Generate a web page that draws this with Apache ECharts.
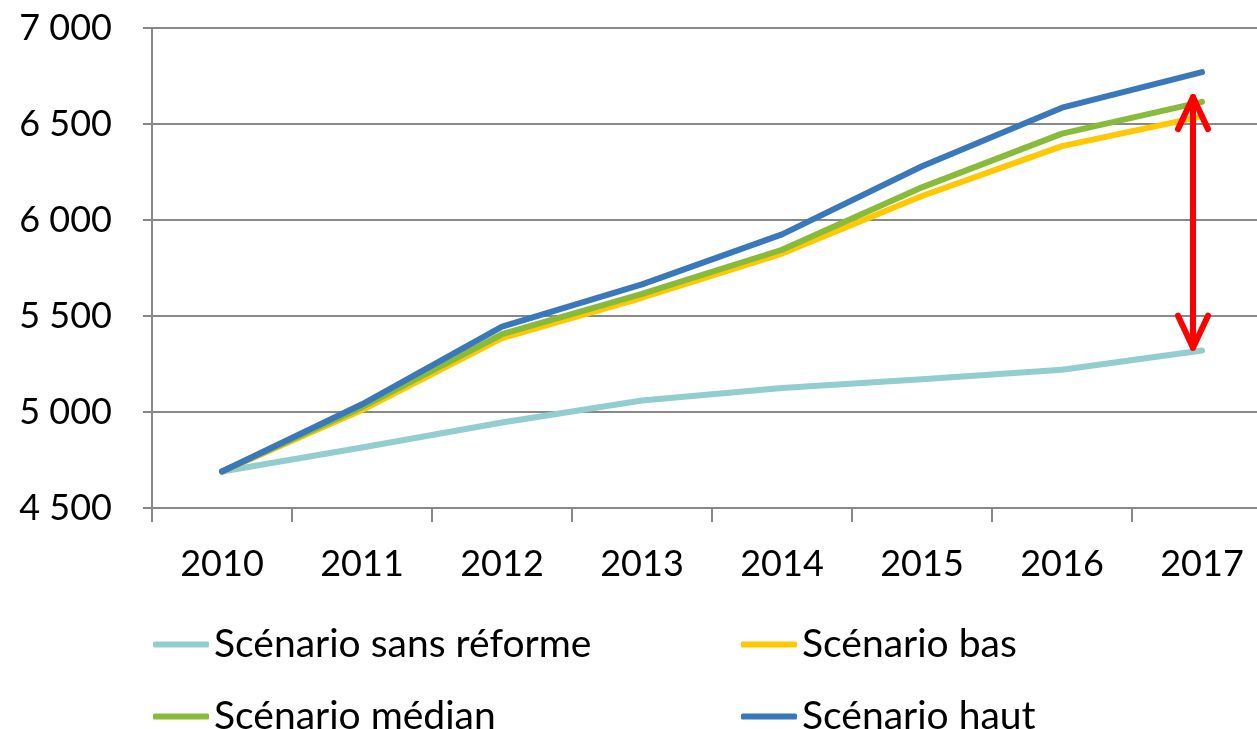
<!DOCTYPE html>
<html>
<head>
<meta charset="utf-8">
<script src="https://cdn.jsdelivr.net/npm/echarts@6/dist/echarts.min.js"></script>
<style>
  html, body { margin: 0; padding: 0; background: #fff; }
  #chart { width: 1257px; height: 729px; }
</style>
</head>
<body>
<div id="chart"></div>
<script>
// données
const years = ['2010', '2011', '2012', '2013', '2014', '2015', '2016', '2017'];
const sansReforme = [4690, 4815, 4945, 5060, 5125, 5170, 5220, 5320];
const bas = [4690, 5010, 5385, 5595, 5825, 6125, 6385, 6540];
const median = [4690, 5025, 5405, 5615, 5845, 6170, 6450, 6615];
const haut = [4690, 5040, 5445, 5665, 5925, 6280, 6585, 6770];
// flèche rouge : écart en 2017
const arrowYear = '2017';
const arrowLow = 5335;
const arrowHigh = 6640;

const FONT = 'Lato';
const GRAY = '#888888';

function fmt(v) {
    return String(v).replace(/\B(?=(\d{3})+(?!\d))/g, ' ');
}

function lineSeries(name, data, color) {
    return {
        name: name,
        type: 'line',
        data: data,
        symbol: 'none',
        lineStyle: { color: color, width: 6, cap: 'round', join: 'round' },
        itemStyle: { color: color },
        animation: false
    };
}

// une légende par entrée, placée en deux colonnes
function legendItem(name, left, top) {
    return {
        left: left, top: top, orient: 'horizontal',
        itemWidth: 56, itemHeight: 6, icon: 'roundRect',
        textStyle: { fontFamily: FONT, fontSize: 39, color: '#000' },
        data: [name]
    };
}

const chart = echarts.init(document.getElementById('chart'));

chart.setOption({
    animation: false,
    grid: { left: 152, right: -15, top: 28, bottom: 221, outerBoundsMode: 'none', containLabel: false },
    legend: [
        legendItem('Scénario sans réforme', 148, 620),
        legendItem('Scénario médian', 148, 692),
        legendItem('Scénario bas', 736, 620),
        legendItem('Scénario haut', 736, 692)
    ],
    xAxis: {
        type: 'category',
        data: years,
        boundaryGap: true,
        axisLine: { lineStyle: { color: GRAY, width: 2 } },
        axisTick: { show: true, length: 14, lineStyle: { color: GRAY, width: 2 } },
        axisLabel: { fontFamily: FONT, fontSize: 36, color: '#000', margin: 38 }
    },
    yAxis: {
        type: 'value',
        min: 4500, max: 7000, interval: 500,
        axisLine: { show: true, lineStyle: { color: GRAY, width: 2 } },
        axisTick: { show: true, length: 9, lineStyle: { color: GRAY, width: 2 } },
        splitLine: { lineStyle: { color: GRAY, width: 2 } },
        axisLabel: { fontFamily: FONT, fontSize: 36, color: '#000', margin: 40, formatter: fmt }
    },
    series: [
        lineSeries('Scénario sans réforme', sansReforme, '#92CDD0'),
        lineSeries('Scénario bas', bas, '#FFC800'),
        lineSeries('Scénario médian', median, '#88BB3A'),
        lineSeries('Scénario haut', haut, '#3A78BC'),
        {
            type: 'custom',
            data: [[arrowYear, arrowLow, arrowHigh]],
            encode: { x: 0, y: [1, 2] },
            z: 10,
            renderItem: function (params, api) {
                const lo = api.coord([api.value(0), api.value(1)]);
                const hi = api.coord([api.value(0), api.value(2)]);
                const x = lo[0] - 9;
                const style = { stroke: '#FF0000', lineWidth: 6, fill: null, lineCap: 'round', lineJoin: 'round' };
                return {
                    type: 'group',
                    children: [
                        { type: 'line', shape: { x1: x, y1: lo[1], x2: x, y2: hi[1] }, style: style },
                        { type: 'polyline', shape: { points: [[x - 15, hi[1] + 32], [x, hi[1]], [x + 15, hi[1] + 32]] }, style: style },
                        { type: 'polyline', shape: { points: [[x - 15, lo[1] - 32], [x, lo[1]], [x + 15, lo[1] - 32]] }, style: style }
                    ]
                };
            }
        }
    ]
});
</script>
</body>
</html>
